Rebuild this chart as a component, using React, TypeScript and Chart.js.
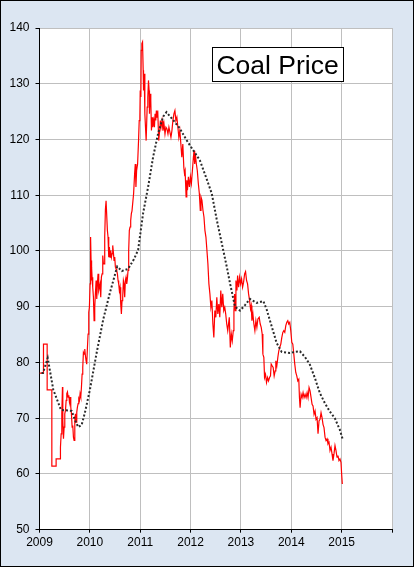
import React, { useEffect, useRef } from "react";
import { Chart, registerables } from "chart.js";

Chart.register(...registerables);

// ---- data (decimal year, price) ----
const coal2009: [number, number][] = [
  [2009.000, 78.1], [2009.079, 78.1], [2009.079, 83.3], [2009.152, 83.3], [2009.152, 75.1], [2009.245, 75.1],
  [2009.245, 61.4], [2009.330, 61.4], [2009.330, 62.7], [2009.416, 62.7], [2009.416, 64.8], [2009.430, 67.2],
  [2009.443, 70.8], [2009.456, 75.6], [2009.463, 69.6], [2009.476, 66.3], [2009.489, 68.4], [2009.502, 70.8],
  [2009.516, 71.4], [2009.529, 73.2], [2009.542, 74.4], [2009.555, 74.7], [2009.568, 73.8], [2009.582, 74.1],
  [2009.595, 72.9], [2009.608, 73.8], [2009.621, 72.0], [2009.634, 70.8], [2009.648, 68.4], [2009.661, 68.7],
  [2009.674, 66.6], [2009.687, 66.0], [2009.701, 69.6], [2009.714, 70.8], [2009.727, 69.3], [2009.740, 71.1],
  [2009.753, 72.0], [2009.767, 72.6], [2009.780, 73.5], [2009.793, 73.2], [2009.806, 74.4], [2009.820, 73.8],
  [2009.833, 75.6], [2009.846, 77.9], [2009.859, 79.1], [2009.872, 81.8], [2009.886, 81.5], [2009.899, 82.4],
  [2009.912, 81.2], [2009.925, 80.3], [2009.938, 79.7], [2009.952, 82.7], [2009.965, 85.1], [2009.978, 89.0],
  [2009.991, 89.9],
];

const coal2010: [number, number][] = [
  [2010.005, 94.1], [2010.011, 97.1], [2010.018, 102.5], [2010.024, 98.3], [2010.031, 94.7], [2010.038, 97.1],
  [2010.044, 95.3], [2010.057, 93.5], [2010.071, 91.7], [2010.084, 87.5], [2010.097, 89.9], [2010.110, 92.3],
  [2010.124, 94.7], [2010.137, 91.4], [2010.150, 94.1], [2010.163, 95.9], [2010.176, 92.9], [2010.190, 93.5],
  [2010.203, 94.1], [2010.216, 91.7], [2010.229, 95.3], [2010.243, 95.9], [2010.256, 99.2], [2010.269, 97.7],
  [2010.282, 97.7], [2010.295, 102.5], [2010.309, 107.5], [2010.322, 109.0], [2010.335, 109.0], [2010.348, 103.7],
  [2010.361, 102.5], [2010.375, 98.9], [2010.388, 100.7], [2010.401, 98.9], [2010.414, 100.1], [2010.428, 98.9],
  [2010.441, 99.5], [2010.454, 101.0], [2010.467, 99.8], [2010.480, 98.3], [2010.494, 98.9], [2010.507, 97.1],
  [2010.520, 96.8], [2010.533, 96.5], [2010.547, 95.9], [2010.560, 94.7], [2010.573, 94.1], [2010.586, 92.9],
  [2010.599, 93.5], [2010.613, 90.5], [2010.626, 88.7], [2010.639, 91.1], [2010.652, 91.7], [2010.666, 94.7],
  [2010.679, 94.1], [2010.692, 91.7], [2010.705, 94.7], [2010.718, 95.3], [2010.732, 94.1], [2010.745, 95.0],
  [2010.758, 96.5], [2010.771, 100.1], [2010.784, 103.7], [2010.798, 104.3], [2010.811, 105.5], [2010.824, 106.7],
  [2010.837, 107.2], [2010.869, 110.3], [2010.889, 113.9], [2010.902, 115.6], [2010.915, 111.5], [2010.928, 114.4],
  [2010.948, 115.6], [2010.967, 119.8], [2010.980, 123.4], [2010.993, 124.0],
];

const coal2011: [number, number][] = [
  [2011.000, 128.8], [2011.013, 127.6], [2011.020, 136.0], [2011.033, 137.2], [2011.046, 137.5], [2011.059, 132.4],
  [2011.066, 128.8], [2011.079, 131.8], [2011.092, 124.6], [2011.105, 122.2], [2011.118, 119.8], [2011.138, 125.8],
  [2011.151, 127.6], [2011.164, 130.6], [2011.177, 128.8], [2011.184, 124.6], [2011.197, 128.2], [2011.210, 127.0],
  [2011.223, 121.6], [2011.236, 124.0], [2011.249, 122.2], [2011.269, 123.4], [2011.282, 122.2], [2011.295, 124.6],
  [2011.308, 123.4], [2011.321, 125.2], [2011.334, 124.0], [2011.348, 125.2], [2011.367, 119.8], [2011.387, 121.6],
  [2011.400, 123.4], [2011.413, 122.2], [2011.433, 123.4], [2011.452, 121.6], [2011.472, 122.8], [2011.492, 121.0],
  [2011.511, 122.2], [2011.531, 121.9], [2011.551, 121.0], [2011.570, 122.2], [2011.590, 121.3], [2011.610, 120.4],
  [2011.630, 121.6], [2011.649, 123.4], [2011.669, 124.6], [2011.689, 125.2], [2011.708, 123.4], [2011.728, 124.0],
  [2011.748, 122.2], [2011.767, 120.4], [2011.787, 121.6], [2011.807, 119.2], [2011.826, 116.8], [2011.846, 119.2],
  [2011.866, 115.0], [2011.879, 113.9], [2011.892, 114.4], [2011.911, 109.7], [2011.925, 112.7], [2011.938, 110.9],
  [2011.957, 113.3], [2011.977, 111.5], [2011.997, 113.3],
];

const coal2012: [number, number][] = [
  [2012.016, 112.1], [2012.036, 114.4], [2012.056, 116.8], [2012.069, 118.0], [2012.082, 115.6], [2012.095, 117.4],
  [2012.115, 115.6], [2012.134, 114.4], [2012.154, 112.1], [2012.174, 110.3], [2012.193, 107.3], [2012.207, 109.7],
  [2012.226, 109.1], [2012.246, 107.3], [2012.266, 106.1], [2012.285, 103.7], [2012.305, 102.5], [2012.325, 100.1],
  [2012.344, 97.7], [2012.364, 94.1], [2012.384, 92.3], [2012.403, 89.9], [2012.423, 91.1], [2012.443, 86.9],
  [2012.462, 84.5], [2012.482, 89.3], [2012.502, 88.1], [2012.521, 91.7], [2012.541, 88.7], [2012.561, 90.5],
  [2012.580, 88.1], [2012.600, 92.9], [2012.620, 89.9], [2012.639, 92.3], [2012.659, 89.3], [2012.679, 89.9],
  [2012.698, 88.7], [2012.718, 86.9], [2012.738, 85.7], [2012.769, 88.1], [2012.789, 82.7], [2012.809, 85.1],
  [2012.828, 83.9], [2012.848, 85.7], [2012.861, 89.3], [2012.875, 92.3], [2012.888, 89.3], [2012.901, 94.7],
  [2012.921, 92.9], [2012.934, 95.6], [2012.954, 93.5], [2012.974, 95.3], [2012.993, 94.1],
];

const coal2013: [number, number][] = [
  [2013.013, 95.0], [2013.033, 93.5], [2013.053, 94.4], [2013.073, 95.9], [2013.092, 96.3], [2013.112, 94.7],
  [2013.132, 94.1], [2013.152, 92.3], [2013.172, 91.1], [2013.191, 89.6], [2013.205, 90.2], [2013.218, 87.5],
  [2013.238, 88.7], [2013.257, 86.9], [2013.277, 85.7], [2013.297, 87.5], [2013.317, 86.3], [2013.337, 87.8],
  [2013.363, 88.1], [2013.383, 86.9], [2013.403, 86.3], [2013.422, 85.1], [2013.436, 81.5], [2013.455, 80.9],
  [2013.469, 77.3], [2013.488, 77.9], [2013.508, 76.4], [2013.528, 77.3], [2013.548, 76.7], [2013.568, 77.3],
  [2013.587, 77.6], [2013.601, 79.7], [2013.620, 79.4], [2013.640, 79.1], [2013.660, 77.6], [2013.680, 78.5],
  [2013.693, 80.3], [2013.713, 79.4], [2013.733, 80.9], [2013.752, 82.1], [2013.772, 82.7], [2013.792, 83.3],
  [2013.812, 84.5], [2013.832, 85.4], [2013.851, 85.7], [2013.871, 85.4], [2013.891, 86.6], [2013.911, 87.2],
  [2013.931, 87.5], [2013.950, 86.9], [2013.970, 87.2], [2013.990, 85.7],
];

const coal2014: [number, number][] = [
  [2014.010, 83.6], [2014.030, 83.3], [2014.050, 81.5], [2014.069, 79.7], [2014.089, 78.2], [2014.109, 77.6],
  [2014.129, 76.7], [2014.149, 77.0], [2014.162, 73.7], [2014.175, 71.9], [2014.195, 74.3], [2014.215, 73.7],
  [2014.234, 74.6], [2014.254, 73.7], [2014.274, 74.3], [2014.294, 73.7], [2014.314, 74.6], [2014.333, 73.7],
  [2014.353, 75.5], [2014.373, 74.9], [2014.393, 73.7], [2014.413, 72.5], [2014.432, 72.2], [2014.452, 70.7],
  [2014.472, 71.3], [2014.492, 69.8], [2014.512, 70.1], [2014.531, 67.2], [2014.551, 69.5], [2014.571, 69.8],
  [2014.591, 71.0], [2014.611, 70.1], [2014.630, 68.9], [2014.650, 68.3], [2014.670, 66.6], [2014.690, 66.0],
  [2014.710, 66.3], [2014.729, 65.4], [2014.749, 65.7], [2014.769, 64.2], [2014.789, 64.8], [2014.809, 63.6],
  [2014.828, 62.4], [2014.848, 63.6], [2014.868, 65.1], [2014.888, 64.2], [2014.908, 63.0], [2014.927, 63.3],
  [2014.947, 62.4], [2014.967, 62.7], [2014.987, 62.1], [2015.000, 60.0], [2015.013, 58.2],
];

// dotted moving-average line
const movingAverage: [number, number][] = [
  [2009.040, 78.1], [2009.069, 78.1], [2009.163, 80.8], [2009.274, 75.1], [2009.426, 71.5], [2009.639, 71.3],
  [2009.704, 69.7], [2009.769, 68.4], [2009.837, 68.8], [2009.902, 71.0], [2010.001, 75.1], [2010.134, 81.7],
  [2010.265, 87.7], [2010.398, 92.5], [2010.543, 97.2], [2010.636, 96.4], [2010.761, 96.8], [2010.874, 98.5],
  [2010.959, 100.2], [2011.058, 106.8], [2011.157, 111.5], [2011.257, 116.9], [2011.356, 121.1], [2011.455, 124.1],
  [2011.522, 124.9], [2011.653, 123.5], [2011.786, 122.0], [2011.919, 119.9], [2012.050, 118.1], [2012.183, 116.3],
  [2012.316, 113.0], [2012.421, 110.3], [2012.520, 105.6], [2012.619, 101.4], [2012.718, 97.2], [2012.783, 94.2],
  [2012.883, 90.0], [2012.982, 89.3], [2013.081, 90.3], [2013.180, 91.4], [2013.313, 90.7], [2013.446, 91.0],
  [2013.511, 89.5], [2013.610, 86.5], [2013.709, 83.5], [2013.809, 81.9], [2013.973, 81.7], [2014.072, 81.9],
  [2014.172, 82.0], [2014.271, 81.0], [2014.370, 79.6], [2014.469, 77.2], [2014.568, 74.5], [2014.667, 72.7],
  [2014.766, 71.2], [2014.865, 70.0], [2014.965, 67.9], [2015.018, 66.3],
];

const xTickYears = [2009, 2010, 2011, 2012, 2013, 2014, 2015, 2016];
const xTickLabels = ["2009", "2010", "2011", "2012", "2013", "2014", "2015", ""];
const yTickValues = [50, 60, 70, 80, 90, 100, 110, 120, 130, 140];
const chartTitle = "Coal Price";

const FONT = "'Liberation Sans', Arial, sans-serif";

export default function App() {
  const ref = useRef<HTMLCanvasElement>(null);

  useEffect(() => {
    document.body.style.margin = "0";
    const canvas = ref.current!;
    const coal = [...coal2009, ...coal2010, ...coal2011, ...coal2012, ...coal2013, ...coal2014];

    const decor = {
      id: "decor",
      beforeDraw(chart: any) {
        const { ctx, chartArea: a } = chart;
        ctx.save();
        ctx.fillStyle = "#DCE6F2";
        ctx.fillRect(0, 0, chart.width, chart.height);
        ctx.fillStyle = "#FFFFFF";
        ctx.fillRect(a.left, a.top, a.right - a.left, a.bottom - a.top);
        ctx.restore();
      },
      afterDraw(chart: any) {
        const { ctx } = chart;
        ctx.save();
        ctx.strokeStyle = "#000";
        ctx.lineWidth = 1;
        ctx.strokeRect(0.5, 0.5, chart.width - 1, chart.height - 1);
        // title box
        ctx.fillStyle = "#FFFFFF";
        ctx.fillRect(212.5, 47.5, 131, 34);
        ctx.strokeRect(212.5, 47.5, 131, 34);
        ctx.fillStyle = "#000";
        ctx.font = `26.5px ${FONT}`;
        ctx.textAlign = "center";
        ctx.textBaseline = "alphabetic";
        ctx.fillText(chartTitle, 277.5, 74);
        ctx.restore();
      },
    };

    const chart = new Chart(canvas, {
      type: "line",
      data: {
        datasets: [
          {
            label: "Average",
            data: movingAverage.map(([x, y]) => ({ x, y })),
            borderColor: "#2a2a2a",
            borderWidth: 2,
            borderDash: [2, 2],
            pointRadius: 0,
            tension: 0,
            fill: false,
          },
          {
            label: "Coal Price",
            data: coal.map(([x, y]) => ({ x, y })),
            borderColor: "#FF0000",
            borderWidth: 1.2,
            pointRadius: 0,
            tension: 0,
            fill: false,
          },
        ],
      },
      options: {
        animation: false,
        responsive: false,
        events: [],
        layout: { padding: { left: 0, top: 28, right: 22, bottom: 0 } },
        plugins: { legend: { display: false }, tooltip: { enabled: false } },
        scales: {
          x: {
            type: "linear",
            min: 2009,
            max: 2016,
            afterBuildTicks: (s: any) => {
              s.ticks = xTickYears.map((v) => ({ value: v }));
            },
            afterFit: (s: any) => {
              s.height = 37.3;
            },
            ticks: {
              autoSkip: false,
              maxRotation: 0,
              padding: 3,
              color: "#000",
              font: { family: FONT, size: 12 },
              callback: (v: any) => {
                const i = xTickYears.indexOf(Number(v));
                return i >= 0 ? xTickLabels[i] : "";
              },
            },
            grid: { color: "#BFBFBF", tickColor: "#000", tickLength: 3, lineWidth: 1 },
            border: { color: "#000", width: 1 },
          },
          y: {
            type: "linear",
            min: 50,
            max: 140,
            afterBuildTicks: (s: any) => {
              s.ticks = yTickValues.map((v) => ({ value: v }));
            },
            afterFit: (s: any) => {
              s.width = 39.5;
            },
            ticks: {
              padding: 6,
              color: "#000",
              font: { family: FONT, size: 12 },
              callback: (v: any) => String(v),
            },
            grid: { color: "#BFBFBF", tickColor: "#000", tickLength: 4, lineWidth: 1 },
            border: { color: "#000", width: 1 },
          },
        },
      },
      plugins: [decor],
    } as any);

    return () => chart.destroy();
  }, []);

  return (
    <canvas ref={ref} width={414} height={567} style={{ display: "block", width: 414, height: 567 }} />
  );
}
